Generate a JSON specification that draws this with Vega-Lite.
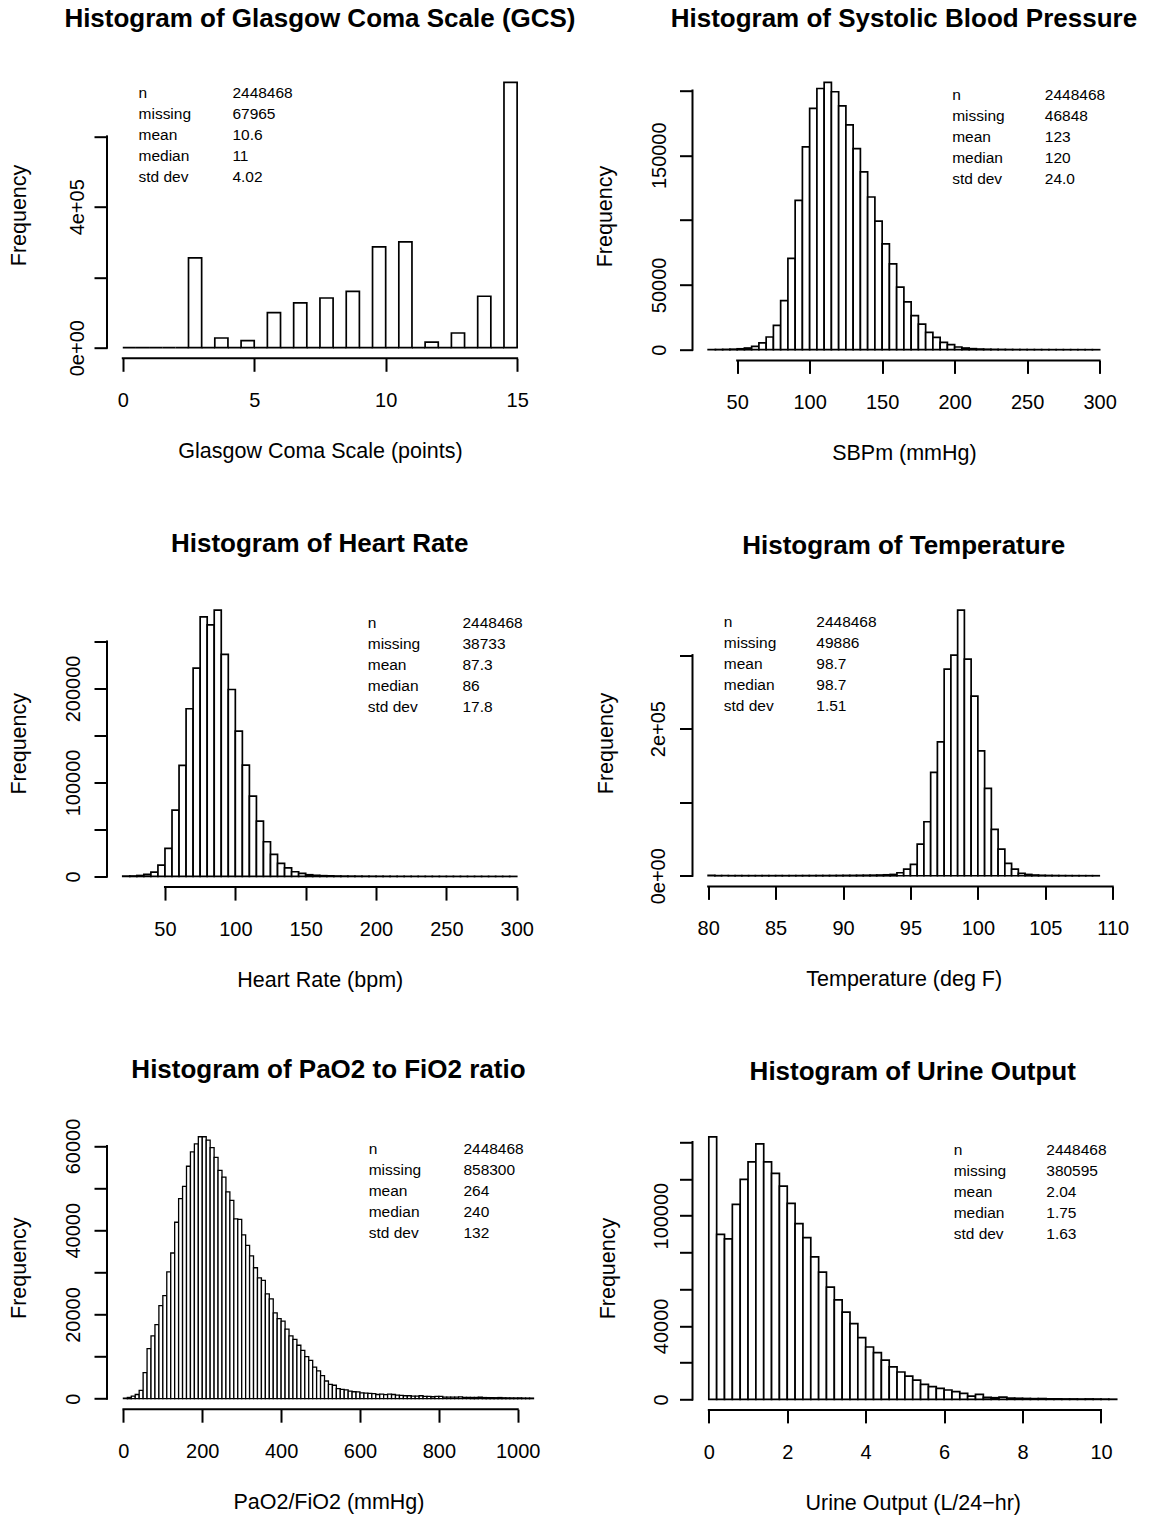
{
  "$schema": "https://vega.github.io/schema/vega-lite/v6.json",
  "padding": {"left": 8, "top": 5.7, "right": 0, "bottom": 2},
  "columns": 2,
  "spacing": {"row": 238.8, "column": 142.5},
  "bounds": "flush",
  "align": "each",
  "datasets": {
    "gcs": [{"start":0,"end":0.5,"count":0},{"start":0.5,"end":1,"count":0},{"start":1,"end":1.5,"count":0},{"start":1.5,"end":2,"count":0},{"start":2,"end":2.5,"count":0},{"start":2.5,"end":3,"count":255000},{"start":3,"end":3.5,"count":0},{"start":3.5,"end":4,"count":27500},{"start":4,"end":4.5,"count":0},{"start":4.5,"end":5,"count":20000},{"start":5,"end":5.5,"count":0},{"start":5.5,"end":6,"count":99500},{"start":6,"end":6.5,"count":0},{"start":6.5,"end":7,"count":127000},{"start":7,"end":7.5,"count":0},{"start":7.5,"end":8,"count":141000},{"start":8,"end":8.5,"count":0},{"start":8.5,"end":9,"count":160000},{"start":9,"end":9.5,"count":0},{"start":9.5,"end":10,"count":286000},{"start":10,"end":10.5,"count":0},{"start":10.5,"end":11,"count":300500},{"start":11,"end":11.5,"count":0},{"start":11.5,"end":12,"count":16000},{"start":12,"end":12.5,"count":0},{"start":12.5,"end":13,"count":41700},{"start":13,"end":13.5,"count":0},{"start":13.5,"end":14,"count":146000},{"start":14,"end":14.5,"count":0},{"start":14.5,"end":15,"count":753500}],
    "sbp": [{"start":30,"end":35,"count":100},{"start":35,"end":40,"count":150},{"start":40,"end":45,"count":250},{"start":45,"end":50,"count":400},{"start":50,"end":55,"count":700},{"start":55,"end":60,"count":1300},{"start":60,"end":65,"count":2600},{"start":65,"end":70,"count":5200},{"start":70,"end":75,"count":9800},{"start":75,"end":80,"count":18800},{"start":80,"end":85,"count":37900},{"start":85,"end":90,"count":70400},{"start":90,"end":95,"count":115200},{"start":95,"end":100,"count":156400},{"start":100,"end":105,"count":186100},{"start":105,"end":110,"count":201500},{"start":110,"end":115,"count":206200},{"start":115,"end":120,"count":199000},{"start":120,"end":125,"count":188100},{"start":125,"end":130,"count":173400},{"start":130,"end":135,"count":155100},{"start":135,"end":140,"count":137100},{"start":140,"end":145,"count":117800},{"start":145,"end":150,"count":99200},{"start":150,"end":155,"count":81700},{"start":155,"end":160,"count":66200},{"start":160,"end":165,"count":48200},{"start":165,"end":170,"count":36900},{"start":170,"end":175,"count":26300},{"start":175,"end":180,"count":19800},{"start":180,"end":185,"count":13400},{"start":185,"end":190,"count":9500},{"start":190,"end":195,"count":5700},{"start":195,"end":200,"count":3900},{"start":200,"end":205,"count":2100},{"start":205,"end":210,"count":1300},{"start":210,"end":215,"count":800},{"start":215,"end":220,"count":500},{"start":220,"end":225,"count":350},{"start":225,"end":230,"count":250},{"start":230,"end":235,"count":200},{"start":235,"end":240,"count":150},{"start":240,"end":245,"count":120},{"start":245,"end":250,"count":100},{"start":250,"end":255,"count":80},{"start":255,"end":260,"count":70},{"start":260,"end":265,"count":60},{"start":265,"end":270,"count":50},{"start":270,"end":275,"count":40},{"start":275,"end":280,"count":35},{"start":280,"end":285,"count":30},{"start":285,"end":290,"count":25},{"start":290,"end":295,"count":20},{"start":295,"end":300,"count":15}],
    "hr": [{"start":20,"end":25,"count":300},{"start":25,"end":30,"count":500},{"start":30,"end":35,"count":1000},{"start":35,"end":40,"count":2100},{"start":40,"end":45,"count":4600},{"start":45,"end":50,"count":12000},{"start":50,"end":55,"count":29800},{"start":55,"end":60,"count":70600},{"start":60,"end":65,"count":118100},{"start":65,"end":70,"count":178400},{"start":70,"end":75,"count":221600},{"start":75,"end":80,"count":276200},{"start":80,"end":85,"count":267700},{"start":85,"end":90,"count":283300},{"start":90,"end":95,"count":236200},{"start":95,"end":100,"count":198900},{"start":100,"end":105,"count":154600},{"start":105,"end":110,"count":118400},{"start":110,"end":115,"count":85500},{"start":115,"end":120,"count":58900},{"start":120,"end":125,"count":36900},{"start":125,"end":130,"count":23400},{"start":130,"end":135,"count":13800},{"start":135,"end":140,"count":9200},{"start":140,"end":145,"count":5000},{"start":145,"end":150,"count":3200},{"start":150,"end":155,"count":1800},{"start":155,"end":160,"count":1200},{"start":160,"end":165,"count":800},{"start":165,"end":170,"count":600},{"start":170,"end":175,"count":450},{"start":175,"end":180,"count":350},{"start":180,"end":185,"count":300},{"start":185,"end":190,"count":250},{"start":190,"end":195,"count":200},{"start":195,"end":200,"count":180},{"start":200,"end":205,"count":160},{"start":205,"end":210,"count":130},{"start":210,"end":215,"count":110},{"start":215,"end":220,"count":100},{"start":220,"end":225,"count":90},{"start":225,"end":230,"count":80},{"start":230,"end":235,"count":70},{"start":235,"end":240,"count":60},{"start":240,"end":245,"count":55},{"start":245,"end":250,"count":50},{"start":250,"end":255,"count":45},{"start":255,"end":260,"count":40},{"start":260,"end":265,"count":35},{"start":265,"end":270,"count":30},{"start":270,"end":275,"count":30},{"start":275,"end":280,"count":25},{"start":280,"end":285,"count":25},{"start":285,"end":290,"count":20},{"start":290,"end":295,"count":20},{"start":295,"end":300,"count":20}],
    "temp": [{"start":80,"end":80.5,"count":500},{"start":80.5,"end":81,"count":200},{"start":81,"end":81.5,"count":200},{"start":81.5,"end":82,"count":150},{"start":82,"end":82.5,"count":200},{"start":82.5,"end":83,"count":150},{"start":83,"end":83.5,"count":150},{"start":83.5,"end":84,"count":150},{"start":84,"end":84.5,"count":200},{"start":84.5,"end":85,"count":150},{"start":85,"end":85.5,"count":200},{"start":85.5,"end":86,"count":150},{"start":86,"end":86.5,"count":200},{"start":86.5,"end":87,"count":200},{"start":87,"end":87.5,"count":250},{"start":87.5,"end":88,"count":250},{"start":88,"end":88.5,"count":300},{"start":88.5,"end":89,"count":300},{"start":89,"end":89.5,"count":350},{"start":89.5,"end":90,"count":400},{"start":90,"end":90.5,"count":500},{"start":90.5,"end":91,"count":500},{"start":91,"end":91.5,"count":600},{"start":91.5,"end":92,"count":700},{"start":92,"end":92.5,"count":800},{"start":92.5,"end":93,"count":1000},{"start":93,"end":93.5,"count":1300},{"start":93.5,"end":94,"count":1800},{"start":94,"end":94.5,"count":4100},{"start":94.5,"end":95,"count":9100},{"start":95,"end":95.5,"count":15400},{"start":95.5,"end":96,"count":43000},{"start":96,"end":96.5,"count":73400},{"start":96.5,"end":97,"count":140500},{"start":97,"end":97.5,"count":182100},{"start":97.5,"end":98,"count":280900},{"start":98,"end":98.5,"count":300000},{"start":98.5,"end":99,"count":361100},{"start":99,"end":99.5,"count":294500},{"start":99.5,"end":100,"count":244200},{"start":100,"end":100.5,"count":169900},{"start":100.5,"end":101,"count":118700},{"start":101,"end":101.5,"count":63000},{"start":101.5,"end":102,"count":36200},{"start":102,"end":102.5,"count":16800},{"start":102.5,"end":103,"count":9100},{"start":103,"end":103.5,"count":3200},{"start":103.5,"end":104,"count":1800},{"start":104,"end":104.5,"count":1000},{"start":104.5,"end":105,"count":600},{"start":105,"end":105.5,"count":400},{"start":105.5,"end":106,"count":300},{"start":106,"end":106.5,"count":200},{"start":106.5,"end":107,"count":150},{"start":107,"end":107.5,"count":120},{"start":107.5,"end":108,"count":100},{"start":108,"end":108.5,"count":80},{"start":108.5,"end":109,"count":60}],
    "pf": [{"start":0,"end":10,"count":150},{"start":10,"end":20,"count":300},{"start":20,"end":30,"count":600},{"start":30,"end":40,"count":1000},{"start":40,"end":50,"count":2000},{"start":50,"end":60,"count":6200},{"start":60,"end":70,"count":11900},{"start":70,"end":80,"count":14900},{"start":80,"end":90,"count":17600},{"start":90,"end":100,"count":22100},{"start":100,"end":110,"count":24500},{"start":110,"end":120,"count":30100},{"start":120,"end":130,"count":34600},{"start":130,"end":140,"count":41900},{"start":140,"end":150,"count":47500},{"start":150,"end":160,"count":50400},{"start":160,"end":170,"count":55200},{"start":170,"end":180,"count":58600},{"start":180,"end":190,"count":60500},{"start":190,"end":200,"count":62200},{"start":200,"end":210,"count":62200},{"start":210,"end":220,"count":61400},{"start":220,"end":230,"count":59600},{"start":230,"end":240,"count":57300},{"start":240,"end":250,"count":54200},{"start":250,"end":260,"count":52600},{"start":260,"end":270,"count":49100},{"start":270,"end":280,"count":47100},{"start":280,"end":290,"count":42700},{"start":290,"end":300,"count":42600},{"start":300,"end":310,"count":38900},{"start":310,"end":320,"count":36400},{"start":320,"end":330,"count":33900},{"start":330,"end":340,"count":31100},{"start":340,"end":350,"count":28700},{"start":350,"end":360,"count":28100},{"start":360,"end":370,"count":24900},{"start":370,"end":380,"count":23700},{"start":380,"end":390,"count":20400},{"start":390,"end":400,"count":19000},{"start":400,"end":410,"count":18400},{"start":410,"end":420,"count":16500},{"start":420,"end":430,"count":14900},{"start":430,"end":440,"count":14100},{"start":440,"end":450,"count":12700},{"start":450,"end":460,"count":11500},{"start":460,"end":470,"count":10000},{"start":470,"end":480,"count":9100},{"start":480,"end":490,"count":7500},{"start":490,"end":500,"count":6600},{"start":500,"end":510,"count":5500},{"start":510,"end":520,"count":4200},{"start":520,"end":530,"count":3400},{"start":530,"end":540,"count":3200},{"start":540,"end":550,"count":2400},{"start":550,"end":560,"count":2200},{"start":560,"end":570,"count":2100},{"start":570,"end":580,"count":1800},{"start":580,"end":590,"count":1650},{"start":590,"end":600,"count":1600},{"start":600,"end":610,"count":1400},{"start":610,"end":620,"count":1350},{"start":620,"end":630,"count":1250},{"start":630,"end":640,"count":1200},{"start":640,"end":650,"count":1000},{"start":650,"end":660,"count":1100},{"start":660,"end":670,"count":950},{"start":670,"end":680,"count":1100},{"start":680,"end":690,"count":1000},{"start":690,"end":700,"count":870},{"start":700,"end":710,"count":800},{"start":710,"end":720,"count":700},{"start":720,"end":730,"count":700},{"start":730,"end":740,"count":630},{"start":740,"end":750,"count":630},{"start":750,"end":760,"count":700},{"start":760,"end":770,"count":550},{"start":770,"end":780,"count":550},{"start":780,"end":790,"count":470},{"start":790,"end":800,"count":550},{"start":800,"end":810,"count":550},{"start":810,"end":820,"count":400},{"start":820,"end":830,"count":400},{"start":830,"end":840,"count":400},{"start":840,"end":850,"count":400},{"start":850,"end":860,"count":450},{"start":860,"end":870,"count":320},{"start":870,"end":880,"count":320},{"start":880,"end":890,"count":300},{"start":890,"end":900,"count":300},{"start":900,"end":910,"count":350},{"start":910,"end":920,"count":280},{"start":920,"end":930,"count":260},{"start":930,"end":940,"count":250},{"start":940,"end":950,"count":240},{"start":950,"end":960,"count":280},{"start":960,"end":970,"count":220},{"start":970,"end":980,"count":200},{"start":980,"end":990,"count":190},{"start":990,"end":1000,"count":180},{"start":1000,"end":1010,"count":200},{"start":1010,"end":1020,"count":160},{"start":1020,"end":1030,"count":150},{"start":1030,"end":1040,"count":150}],
    "urine": [{"start":0,"end":0.2,"count":142900},{"start":0.2,"end":0.4,"count":89800},{"start":0.4,"end":0.6,"count":87400},{"start":0.6,"end":0.8,"count":106100},{"start":0.8,"end":1,"count":119700},{"start":1,"end":1.2,"count":129200},{"start":1.2,"end":1.4,"count":139000},{"start":1.4,"end":1.6,"count":129200},{"start":1.6,"end":1.8,"count":123000},{"start":1.8,"end":2,"count":116100},{"start":2,"end":2.2,"count":106700},{"start":2.2,"end":2.4,"count":95600},{"start":2.4,"end":2.6,"count":88000},{"start":2.6,"end":2.8,"count":77500},{"start":2.8,"end":3,"count":69300},{"start":3,"end":3.2,"count":61100},{"start":3.2,"end":3.4,"count":54100},{"start":3.4,"end":3.6,"count":47500},{"start":3.6,"end":3.8,"count":41200},{"start":3.8,"end":4,"count":33600},{"start":4,"end":4.2,"count":28500},{"start":4.2,"end":4.4,"count":25400},{"start":4.4,"end":4.6,"count":21400},{"start":4.6,"end":4.8,"count":17700},{"start":4.8,"end":5,"count":14900},{"start":5,"end":5.2,"count":12700},{"start":5.2,"end":5.4,"count":10500},{"start":5.4,"end":5.6,"count":8200},{"start":5.6,"end":5.8,"count":6900},{"start":5.8,"end":6,"count":6000},{"start":6,"end":6.2,"count":5100},{"start":6.2,"end":6.4,"count":4200},{"start":6.4,"end":6.6,"count":3300},{"start":6.6,"end":6.8,"count":1800},{"start":6.8,"end":7,"count":2700},{"start":7,"end":7.2,"count":1100},{"start":7.2,"end":7.4,"count":900},{"start":7.4,"end":7.6,"count":1200},{"start":7.6,"end":7.8,"count":700},{"start":7.8,"end":8,"count":600},{"start":8,"end":8.2,"count":500},{"start":8.2,"end":8.4,"count":400},{"start":8.4,"end":8.6,"count":450},{"start":8.6,"end":8.8,"count":300},{"start":8.8,"end":9,"count":300},{"start":9,"end":9.2,"count":250},{"start":9.2,"end":9.4,"count":250},{"start":9.4,"end":9.6,"count":200},{"start":9.6,"end":9.8,"count":250},{"start":9.8,"end":10,"count":200},{"start":10,"end":10.2,"count":150},{"start":10.2,"end":10.4,"count":100}]
  },
  "concat": [
    {
      "width": 425.9, "height": 286.6,
      "title": {"text": "Histogram of Glasgow Coma Scale (GCS)", "offset": 39.8},
      "layer": [
        {"data": {"name": "gcs"}, "mark": {"type": "rect", "fill": "white", "stroke": "black", "strokeWidth": 1.7},
         "encoding": {
           "x": {"field": "start", "type": "quantitative", "scale": {"domain": [-0.6, 15.6], "nice": false, "zero": false}, "axis": {"values": [0, 5, 10, 15], "format": "d", "title": "Glasgow Coma Scale (points)"}},
           "x2": {"field": "end"},
           "y": {"field": "count", "type": "quantitative", "scale": {"domain": [-30140, 783640], "nice": false, "zero": false}, "axis": {"values": [0, 200000, 400000, 600000], "labelExpr": "datum.value == 0 ? '0e+00' : (datum.value == 400000 ? '4e+05' : '')", "title": "Frequency", "labelPadding": 10.6, "titlePadding": 41.9}},
           "y2": {"datum": 0}
         }},
        {"data": {"values": [{}]}, "mark": {"type": "rule", "color": "black", "strokeWidth": 2, "strokeCap": "square"}, "encoding": {"x": {"datum": 0}, "x2": {"datum": 15}, "y": {"datum": -30140}}},
        {"data": {"values": [{}]}, "mark": {"type": "rule", "color": "black", "strokeWidth": 2, "strokeCap": "square"}, "encoding": {"x": {"datum": -0.6}, "y": {"datum": 0}, "y2": {"datum": 600000}}},
        {"data": {"values": [{}]}, "mark": {"type": "text", "align": "left", "baseline": "alphabetic", "fontSize": 15.5, "lineHeight": 21, "text": ["n", "missing", "mean", "median", "std dev"]}, "encoding": {"x": {"datum": 0.6}, "y": {"datum": 709300}}},
        {"data": {"values": [{}]}, "mark": {"type": "text", "align": "left", "baseline": "alphabetic", "fontSize": 15.5, "lineHeight": 21, "text": ["2448468", "67965", "10.6", "11", "4.02"]}, "encoding": {"x": {"datum": 4.17}, "y": {"datum": 709300}}}
      ]
    },
    {
      "width": 422.8, "height": 288.7,
      "title": {"text": "Histogram of Systolic Blood Pressure", "offset": 39.8},
      "layer": [
        {"data": {"name": "sbp"}, "mark": {"type": "rect", "fill": "white", "stroke": "black", "strokeWidth": 1.7},
         "encoding": {
           "x": {"field": "start", "type": "quantitative", "scale": {"domain": [19.2, 310.8], "nice": false, "zero": false}, "axis": {"values": [50, 100, 150, 200, 250, 300], "format": "d", "title": "SBPm (mmHg)"}},
           "x2": {"field": "end"},
           "y": {"field": "count", "type": "quantitative", "scale": {"domain": [-8248, 214448], "nice": false, "zero": false}, "axis": {"values": [0, 50000, 100000, 150000, 200000], "format": "d", "labelExpr": "(datum.value == 0 || datum.value == 50000 || datum.value == 150000) ? datum.label : ''", "title": "Frequency", "labelPadding": 13.5, "titlePadding": 38.1}},
           "y2": {"datum": 0}
         }},
        {"data": {"values": [{}]}, "mark": {"type": "rule", "color": "black", "strokeWidth": 2, "strokeCap": "square"}, "encoding": {"x": {"datum": 50}, "x2": {"datum": 300}, "y": {"datum": -8248}}},
        {"data": {"values": [{}]}, "mark": {"type": "rule", "color": "black", "strokeWidth": 2, "strokeCap": "square"}, "encoding": {"x": {"datum": 19.2}, "y": {"datum": 0}, "y2": {"datum": 200000}}},
        {"data": {"values": [{}]}, "mark": {"type": "text", "align": "left", "baseline": "alphabetic", "fontSize": 15.5, "lineHeight": 21, "text": ["n", "missing", "mean", "median", "std dev"]}, "encoding": {"x": {"datum": 198.3}, "y": {"datum": 192300}}},
        {"data": {"values": [{}]}, "mark": {"type": "text", "align": "left", "baseline": "alphabetic", "fontSize": 15.5, "lineHeight": 21, "text": ["2448468", "46848", "123", "120", "24.0"]}, "encoding": {"x": {"datum": 262.2}, "y": {"datum": 192300}}}
      ]
    },
    {
      "width": 425.5, "height": 287.6,
      "title": {"text": "Histogram of Heart Rate", "offset": 42.5},
      "layer": [
        {"data": {"name": "hr"}, "mark": {"type": "rect", "fill": "white", "stroke": "black", "strokeWidth": 1.7},
         "encoding": {
           "x": {"field": "start", "type": "quantitative", "scale": {"domain": [8.8, 311.2], "nice": false, "zero": false}, "axis": {"values": [50, 100, 150, 200, 250, 300], "format": "d", "title": "Heart Rate (bpm)"}},
           "x2": {"field": "end"},
           "y": {"field": "count", "type": "quantitative", "scale": {"domain": [-11332, 294632], "nice": false, "zero": false}, "axis": {"values": [0, 50000, 100000, 150000, 200000, 250000], "format": "d", "labelExpr": "datum.value % 100000 == 0 ? datum.label : ''", "title": "Frequency", "labelPadding": 14.8, "titlePadding": 38}},
           "y2": {"datum": 0}
         }},
        {"data": {"values": [{}]}, "mark": {"type": "rule", "color": "black", "strokeWidth": 2, "strokeCap": "square"}, "encoding": {"x": {"datum": 50}, "x2": {"datum": 300}, "y": {"datum": -11332}}},
        {"data": {"values": [{}]}, "mark": {"type": "rule", "color": "black", "strokeWidth": 2, "strokeCap": "square"}, "encoding": {"x": {"datum": 8.8}, "y": {"datum": 0}, "y2": {"datum": 250000}}},
        {"data": {"values": [{}]}, "mark": {"type": "text", "align": "left", "baseline": "alphabetic", "fontSize": 15.5, "lineHeight": 21, "text": ["n", "missing", "mean", "median", "std dev"]}, "encoding": {"x": {"datum": 194.1}, "y": {"datum": 264500}}},
        {"data": {"values": [{}]}, "mark": {"type": "text", "align": "left", "baseline": "alphabetic", "fontSize": 15.5, "lineHeight": 21, "text": ["2448468", "38733", "87.3", "86", "17.8"]}, "encoding": {"x": {"datum": 261.4}, "y": {"datum": 264500}}}
      ]
    },
    {
      "width": 422.4, "height": 286.9,
      "title": {"text": "Histogram of Temperature", "offset": 40.5},
      "layer": [
        {"data": {"name": "temp"}, "mark": {"type": "rect", "fill": "white", "stroke": "black", "strokeWidth": 1.7},
         "encoding": {
           "x": {"field": "start", "type": "quantitative", "scale": {"domain": [78.84, 110.16], "nice": false, "zero": false}, "axis": {"values": [80, 85, 90, 95, 100, 105, 110], "format": "d", "title": "Temperature (deg F)"}},
           "x2": {"field": "end"},
           "y": {"field": "count", "type": "quantitative", "scale": {"domain": [-14444, 375544], "nice": false, "zero": false}, "axis": {"values": [0, 100000, 200000, 300000], "labelExpr": "datum.value == 0 ? '0e+00' : (datum.value == 200000 ? '2e+05' : '')", "title": "Frequency", "labelPadding": 14.9, "titlePadding": 36.3}},
           "y2": {"datum": 0}
         }},
        {"data": {"values": [{}]}, "mark": {"type": "rule", "color": "black", "strokeWidth": 2, "strokeCap": "square"}, "encoding": {"x": {"datum": 80}, "x2": {"datum": 110}, "y": {"datum": -14444}}},
        {"data": {"values": [{}]}, "mark": {"type": "rule", "color": "black", "strokeWidth": 2, "strokeCap": "square"}, "encoding": {"x": {"datum": 78.84}, "y": {"datum": 0}, "y2": {"datum": 300000}}},
        {"data": {"values": [{}]}, "mark": {"type": "text", "align": "left", "baseline": "alphabetic", "fontSize": 15.5, "lineHeight": 21, "text": ["n", "missing", "mean", "median", "std dev"]}, "encoding": {"x": {"datum": 81.16}, "y": {"datum": 338500}}},
        {"data": {"values": [{}]}, "mark": {"type": "text", "align": "left", "baseline": "alphabetic", "fontSize": 15.5, "lineHeight": 21, "text": ["2448468", "49886", "98.7", "98.7", "1.51"]}, "encoding": {"x": {"datum": 88.02}, "y": {"datum": 338500}}}
      ]
    },
    {
      "width": 442.9, "height": 282.9,
      "title": {"text": "Histogram of PaO2 to FiO2 ratio", "offset": 34.8},
      "layer": [
        {"data": {"name": "pf"}, "mark": {"type": "rect", "fill": "white", "stroke": "black", "strokeWidth": 1.3},
         "encoding": {
           "x": {"field": "start", "type": "quantitative", "scale": {"domain": [-41.6, 1081.6], "nice": false, "zero": false}, "axis": {"values": [0, 200, 400, 600, 800, 1000], "format": "d", "title": "PaO2/FiO2 (mmHg)"}},
           "x2": {"field": "end"},
           "y": {"field": "count", "type": "quantitative", "scale": {"domain": [-2488, 64688], "nice": false, "zero": false}, "axis": {"values": [0, 10000, 20000, 30000, 40000, 50000, 60000], "format": "d", "labelExpr": "datum.value % 20000 == 0 ? datum.label : ''", "title": "Frequency", "labelPadding": 14.8, "titlePadding": 38}},
           "y2": {"datum": 0}
         }},
        {"data": {"values": [{}]}, "mark": {"type": "rule", "color": "black", "strokeWidth": 2, "strokeCap": "square"}, "encoding": {"x": {"datum": 0}, "x2": {"datum": 1000}, "y": {"datum": -2488}}},
        {"data": {"values": [{}]}, "mark": {"type": "rule", "color": "black", "strokeWidth": 2, "strokeCap": "square"}, "encoding": {"x": {"datum": -41.6}, "y": {"datum": 0}, "y2": {"datum": 60000}}},
        {"data": {"values": [{}]}, "mark": {"type": "text", "align": "left", "baseline": "alphabetic", "fontSize": 15.5, "lineHeight": 21, "text": ["n", "missing", "mean", "median", "std dev"]}, "encoding": {"x": {"datum": 622.1}, "y": {"datum": 58030}}},
        {"data": {"values": [{}]}, "mark": {"type": "text", "align": "left", "baseline": "alphabetic", "fontSize": 15.5, "lineHeight": 21, "text": ["2448468", "858300", "264", "240", "132"]}, "encoding": {"x": {"datum": 862.3}, "y": {"datum": 58030}}}
      ]
    },
    {
      "width": 440.5, "height": 283.6,
      "title": {"text": "Histogram of Urine Output", "offset": 40.8},
      "layer": [
        {"data": {"name": "urine"}, "mark": {"type": "rect", "fill": "white", "stroke": "black", "strokeWidth": 1.7},
         "encoding": {
           "x": {"field": "start", "type": "quantitative", "scale": {"domain": [-0.416, 10.816], "nice": false, "zero": false}, "axis": {"values": [0, 2, 4, 6, 8, 10], "format": "d", "title": "Urine Output (L/24−hr)"}},
           "x2": {"field": "end"},
           "y": {"field": "count", "type": "quantitative", "scale": {"domain": [-5716, 148616], "nice": false, "zero": false}, "axis": {"values": [0, 20000, 40000, 60000, 80000, 100000, 120000, 140000], "format": "d", "labelExpr": "(datum.value == 0 || datum.value == 40000 || datum.value == 100000) ? datum.label : ''", "title": "Frequency", "labelPadding": 12.4, "titlePadding": 36.3}},
           "y2": {"datum": 0}
         }},
        {"data": {"values": [{}]}, "mark": {"type": "rule", "color": "black", "strokeWidth": 2, "strokeCap": "square"}, "encoding": {"x": {"datum": 0}, "x2": {"datum": 10}, "y": {"datum": -5716}}},
        {"data": {"values": [{}]}, "mark": {"type": "rule", "color": "black", "strokeWidth": 2, "strokeCap": "square"}, "encoding": {"x": {"datum": -0.416}, "y": {"datum": 0}, "y2": {"datum": 140000}}},
        {"data": {"values": [{}]}, "mark": {"type": "text", "align": "left", "baseline": "alphabetic", "fontSize": 15.5, "lineHeight": 21, "text": ["n", "missing", "mean", "median", "std dev"]}, "encoding": {"x": {"datum": 6.244}, "y": {"datum": 132760}}},
        {"data": {"values": [{}]}, "mark": {"type": "text", "align": "left", "baseline": "alphabetic", "fontSize": 15.5, "lineHeight": 21, "text": ["2448468", "380595", "2.04", "1.75", "1.63"]}, "encoding": {"x": {"datum": 8.605}, "y": {"datum": 132760}}}
      ]
    }
  ],
  "config": {
    "view": {"stroke": null},
    "font": "Liberation Sans",
    "text": {"font": "Liberation Sans", "color": "black"},
    "title": {"font": "Liberation Sans", "fontSize": 26, "fontWeight": "bold", "color": "black", "anchor": "middle", "frame": "group", "baseline": "alphabetic"},
    "axis": {"domain": false, "grid": false, "ticks": true, "tickSize": 13, "tickWidth": 2, "tickColor": "black", "labelColor": "black", "titleColor": "black", "labelFont": "Liberation Sans", "titleFont": "Liberation Sans", "labelFontSize": 20, "titleFontSize": 21.5, "titleFontWeight": "normal", "labelOverlap": false, "labelFlush": false, "labelBound": false},
    "axisX": {"labelBaseline": "alphabetic", "labelPadding": 35.3, "titleBaseline": "alphabetic", "titlePadding": 47},
    "axisY": {"labelAngle": -90, "labelAlign": "center", "labelBaseline": "alphabetic", "titleBaseline": "alphabetic"}
  }
}
